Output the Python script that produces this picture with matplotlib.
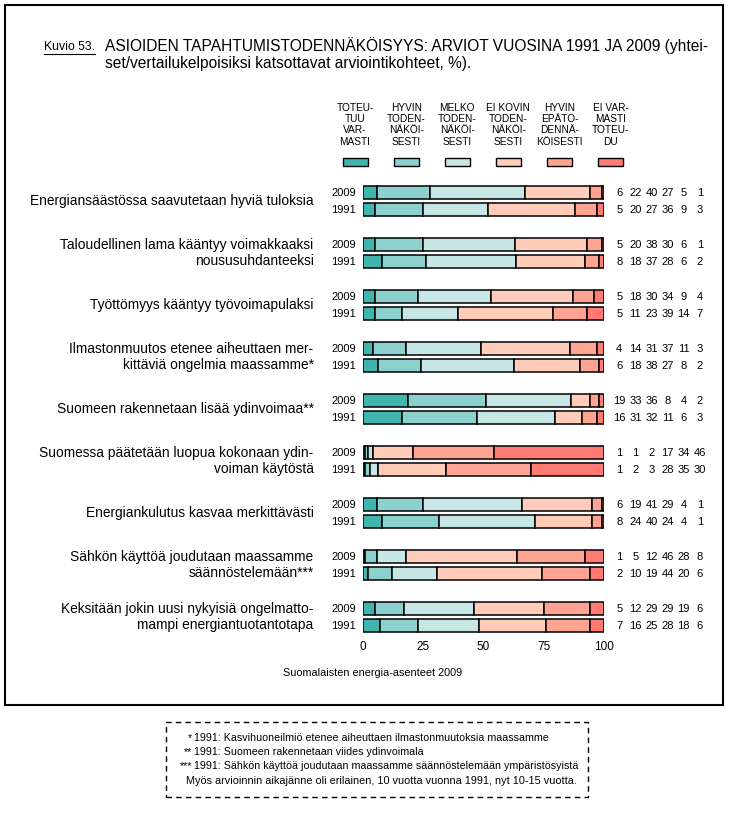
import numpy as np
import matplotlib.pyplot as plt
from matplotlib.patches import Rectangle
from matplotlib.lines import Line2D

plt.rcParams['font.family'] = ['Liberation Sans', 'DejaVu Sans']

# ---- data ----
categories = [
    "Energiansäästössa saavutetaan hyviä tuloksia",
    "Taloudellinen lama kääntyy voimakkaaksi\nnoususuhdanteeksi",
    "Työttömyys kääntyy työvoimapulaksi",
    "Ilmastonmuutos etenee aiheuttaen mer-\nkittäviä ongelmia maassamme*",
    "Suomeen rakennetaan lisää ydinvoimaa**",
    "Suomessa päätetään luopua kokonaan ydin-\nvoiman käytöstä",
    "Energiankulutus kasvaa merkittävästi",
    "Sähkön käyttöä joudutaan maassamme\nsäännöstelemään***",
    "Keksitään jokin uusi nykyisiä ongelmatto-\nmampi energiantuotantotapa",
]
v2009 = [[6, 22, 40, 27, 5, 1], [5, 20, 38, 30, 6, 1], [5, 18, 30, 34, 9, 4],
         [4, 14, 31, 37, 11, 3], [19, 33, 36, 8, 4, 2], [1, 1, 2, 17, 34, 46],
         [6, 19, 41, 29, 4, 1], [1, 5, 12, 46, 28, 8], [5, 12, 29, 29, 19, 6]]
v1991 = [[5, 20, 27, 36, 9, 3], [8, 18, 37, 28, 6, 2], [5, 11, 23, 39, 14, 7],
         [6, 18, 38, 27, 8, 2], [16, 31, 32, 11, 6, 3], [1, 2, 3, 28, 35, 30],
         [8, 24, 40, 24, 4, 1], [2, 10, 19, 44, 20, 6], [7, 16, 25, 28, 18, 6]]
years = ["2009", "1991"]
legend_labels = ["TOTEU-\nTUU\nVAR-\nMASTI", "HYVIN\nTODEN-\nNÄKÖI-\nSESTI",
                 "MELKO\nTODEN-\nNÄKÖI-\nSESTI", "EI KOVIN\nTODEN-\nNÄKÖI-\nSESTI",
                 "HYVIN\nEPÄTO-\nDENNÄ-\nKÖISESTI", "EI VAR-\nMASTI\nTOTEU-\nDU"]
colors = ["#40b5ad", "#8dd1cf", "#c6e7e5", "#ffccb9", "#ffa393", "#ff7b73"]
xticks = [0, 25, 50, 75, 100]

# ---- figure ----
W, H = 729, 813
fig = plt.figure(figsize=(W / 100, H / 100), dpi=100)

def fx(px):
    return px / W

def fy(py):
    return 1 - py / H

# outer frame
fig.patches.append(Rectangle((fx(5), fy(705)), fx(718), 700 / H, transform=fig.transFigure,
                             fill=False, lw=1.5, ec="black"))
# footnote dashed box
fig.patches.append(Rectangle((fx(166), fy(797)), fx(422), 75 / H, transform=fig.transFigure,
                             fill=False, lw=1.0, ec="black", ls=(0, (4, 3))))

# title
kt = fig.text(fx(44), fy(50), "Kuvio 53.", fontsize=8.8, va="baseline", ha="left")
fig.text(fx(105), fy(54), "ASIOIDEN TAPAHTUMISTODENNÄKÖISYYS: ARVIOT VUOSINA 1991 JA 2009 (yhtei-\n"
         "set/vertailukelpoisiksi katsottavat arviointikohteet, %).",
         fontsize=11.2, va="center", ha="left", linespacing=1.1)
fig.canvas.draw()
bb = kt.get_window_extent().transformed(fig.transFigure.inverted())
fig.lines.append(Line2D([bb.x0, bb.x1], [bb.y0 - 0.001, bb.y0 - 0.001],
                        transform=fig.transFigure, color="black", lw=0.8))

# ---- main axes ----
ax = fig.add_axes([fx(363), fy(633), fx(241), 453 / H])
group_step = 3.06
bar_h = 0.76

for g in range(len(categories)):
    for r, vals in enumerate([v2009[g], v1991[g]]):
        y = g * group_step + r
        vals = np.array(vals, dtype=float)
        widths = vals / vals.sum() * 100
        lefts = np.concatenate([[0], np.cumsum(widths)[:-1]])
        ax.barh(y, widths, left=lefts, height=bar_h, color=colors,
                edgecolor="black", linewidth=1.1)
        ax.text(-2.8, y, years[r], fontsize=8, ha="right", va="center", clip_on=False)
        for k, v in enumerate(vals):
            ax.text(106.3 + 6.7 * k, y, str(int(v)), fontsize=8, ha="center",
                    va="center", clip_on=False)
    ax.text(-20.5, g * group_step + 0.5, categories[g], fontsize=9.9, ha="right",
            va="center", multialignment="right", linespacing=1.2, clip_on=False)

# legend swatches and headers
for k, (lab, c) in enumerate(zip(legend_labels, colors)):
    xc = -3.3 + 21.2 * k
    ax.add_patch(Rectangle((xc - 5.2, -1.79 - 0.24), 10.4, 0.48, facecolor=c,
                           edgecolor="black", lw=1.0, clip_on=False))
    ax.text(xc, -2.7, lab, fontsize=7.3, ha="center", va="bottom",
            multialignment="center", linespacing=1.15, clip_on=False,
            family=["Liberation Sans Narrow", "Liberation Sans"])

ax.set_xlim(0, 100)
ax.set_ylim(25.9, -0.735)
ax.set_xticks(xticks)
ax.set_xticklabels([str(t) for t in xticks], fontsize=8.5)
ax.tick_params(axis="x", length=0, pad=6)
ax.set_yticks([])
for s in ax.spines.values():
    s.set_visible(False)

# source
fig.text(fx(373), fy(673), "Suomalaisten energia-asenteet 2009", fontsize=7.8,
         ha="center", va="center")

# footnotes
notes = [("*", "1991: Kasvihuoneilmiö etenee aiheuttaen ilmastonmuutoksia maassamme"),
         ("**", "1991: Suomeen rakennetaan viides ydinvoimala"),
         ("***", "1991: Sähkön käyttöä joudutaan maassamme säännöstelemään ympäristösyistä")]
for i, (star, txt) in enumerate(notes):
    yy = fy(738 + 14 * i)
    fig.text(fx(192), yy, star, fontsize=7.7, ha="right", va="center")
    fig.text(fx(194), yy, txt, fontsize=7.7, ha="left", va="center")
fig.text(fx(381), fy(781), "Myös arvioinnin aikajänne oli erilainen, 10 vuotta vuonna 1991, nyt 10-15 vuotta.",
         fontsize=7.8, ha="center", va="center")

fig.savefig("out.png", dpi=100)
